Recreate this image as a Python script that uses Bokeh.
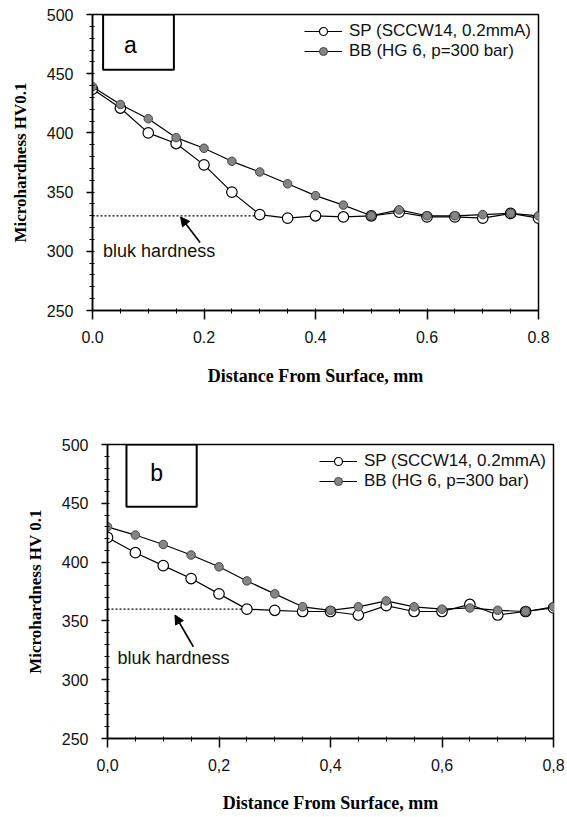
import numpy as np
from bokeh.plotting import figure
from bokeh.layouts import column
from bokeh.models import (Range1d, FixedTicker, Legend, LegendItem, Label,
                          BoxAnnotation, Arrow, NormalHead)
from bokeh.embed import file_html
from bokeh.resources import INLINE
from bokeh.core.properties import value

# ---------------- data ----------------
depth_mm = [0.0, 0.05, 0.10, 0.15, 0.20, 0.25, 0.30, 0.35, 0.40,
            0.45, 0.50, 0.55, 0.60, 0.65, 0.70, 0.75, 0.80]

sp_a = [437, 421, 400, 391, 373, 350, 331, 328, 330, 329, 330, 333, 329, 329, 328, 332, 328]
bb_a = [439, 424, 412, 396, 387, 376, 367, 357, 347, 339, 330, 335, 330, 330, 331, 332, 330]

sp_b = [421, 408, 397, 386, 373, 360, 359, 358, 358, 355, 363, 358, 358, 364, 355, 358, 361]
bb_b = [430, 423, 415, 406, 396, 384, 373, 362, 359, 362, 367, 362, 360, 361, 359, 358, 362]

bulk_a = 330
bulk_b = 360
bulk_start = 0.0
bulk_end_a = 0.30
bulk_end_b = 0.25

series_labels = ["SP (SCCW14, 0.2mmA)", "BB (HG 6, p=300 bar)"]
x_ticks = [0.0, 0.2, 0.4, 0.6, 0.8]
x_tick_labels_a = ["0.0", "0.2", "0.4", "0.6", "0.8"]
x_tick_labels_b = ["0,0", "0,2", "0,4", "0,6", "0,8"]
y_ticks = [250, 300, 350, 400, 450, 500]
panel_tags = ["a", "b"]
y_titles = ["Microhardness HV0.1", "Microhardness HV 0.1"]
x_title = "Distance From Surface, mm"
note_text = "bluk hardness"

SANS = "Liberation Sans"
SERIF = "Liberation Serif"


def make_panel(sp, bb, bulk, bulk_end, tag, tag_box, tag_xy, ytitle, xlabels,
               note_xy, arrow_pts, size, borders, xlabel_standoff, ylabel_standoff):
    ml, mt, mr, mb = borders
    p = figure(width=size[0], height=size[1],
               x_range=Range1d(0, 0.8), y_range=Range1d(250, 500),
               output_backend="svg", toolbar_location=None,
               min_border_left=ml, min_border_top=mt,
               min_border_right=mr, min_border_bottom=mb,
               frame_align=False)
    p.xgrid.visible = False
    p.ygrid.visible = False
    p.outline_line_color = "black"
    p.outline_line_width = 1.5
    p.outline_line_alpha = 1.0
    p.background_fill_color = "white"
    p.border_fill_color = "white"

    # x axis
    xa = p.xaxis[0]
    xa.ticker = FixedTicker(ticks=x_ticks,
                            minor_ticks=list(np.round(np.arange(0, 0.8001, 0.05), 2)))
    xa.major_label_overrides = dict(zip(x_ticks, xlabels))
    xa.axis_label = x_title
    xa.axis_label_text_font = SERIF
    xa.axis_label_text_font_style = "bold"
    xa.axis_label_text_font_size = "18px"
    xa.axis_label_text_color = "black"
    xa.axis_label_standoff = xlabel_standoff
    xa.major_label_text_font = SANS
    xa.major_label_text_font_size = "16px"
    xa.major_label_text_color = "#111111"
    xa.major_label_standoff = 11
    xa.major_tick_out = 9
    xa.major_tick_in = 0
    xa.minor_tick_out = 3
    xa.minor_tick_in = 2
    xa.axis_line_width = 1.5
    xa.major_tick_line_width = 1.5
    xa.axis_line_color = "black"

    # y axis
    ya = p.yaxis[0]
    ya.ticker = FixedTicker(ticks=y_ticks, minor_ticks=list(range(250, 501, 10)))
    ya.axis_label = ytitle
    ya.axis_label_text_font = SERIF
    ya.axis_label_text_font_style = "bold"
    ya.axis_label_text_font_size = "17px"
    ya.axis_label_text_color = "black"
    ya.axis_label_standoff = ylabel_standoff
    ya.major_label_text_font = SANS
    ya.major_label_text_font_size = "16px"
    ya.major_label_text_color = "#111111"
    ya.major_label_standoff = 13
    ya.major_tick_out = 6
    ya.major_tick_in = 0
    ya.minor_tick_out = 3
    ya.minor_tick_in = 2
    ya.axis_line_width = 1.5
    ya.major_tick_line_width = 1.5
    ya.axis_line_color = "black"

    # bulk hardness dotted line
    p.segment(x0=[bulk_start], y0=[bulk], x1=[bulk_end], y1=[bulk],
              line_color="black", line_width=1.3, line_dash="2 2")

    # series
    sp_line = p.line(depth_mm, sp, line_color="black", line_width=1.2)
    sp_pts = p.scatter(depth_mm, sp, marker="circle", size=10.5,
                       fill_color="white", line_color="black", line_width=1.2)
    bb_line = p.line(depth_mm, bb, line_color="black", line_width=1.2)
    bb_pts = p.scatter(depth_mm, bb, marker="circle", size=8.5,
                       fill_color="#858585", line_color="#444444", line_width=1.0)

    legend = Legend(items=[
        LegendItem(label=value(series_labels[0]), renderers=[sp_line, sp_pts]),
        LegendItem(label=value(series_labels[1]), renderers=[bb_line, bb_pts]),
    ], location="top_right")
    legend.label_text_font = SANS
    legend.label_text_font_size = "17px"
    legend.label_text_color = "#111111"
    legend.glyph_width = 38
    legend.glyph_height = 20
    legend.label_height = 20
    legend.label_standoff = 7
    legend.spacing = 0
    legend.padding = 5
    legend.margin = 2
    legend.border_line_alpha = 0
    legend.background_fill_alpha = 0
    p.add_layout(legend)

    # panel tag box
    l, r, b, t = tag_box
    p.add_layout(BoxAnnotation(left=l, right=r, bottom=b, top=t,
                               fill_alpha=0, line_color="black",
                               line_alpha=1.0, line_width=2))
    p.add_layout(Label(x=tag_xy[0], y=tag_xy[1], text=tag,
                       text_font=SANS, text_font_size="23px",
                       text_align="center", text_baseline="middle",
                       text_color="black"))

    # annotation
    p.add_layout(Label(x=note_xy[0], y=note_xy[1], text=note_text,
                       text_font=SANS, text_font_size="18px",
                       text_align="left", text_baseline="middle",
                       text_color="#111111"))
    (xs, ys), (xe, ye) = arrow_pts
    p.add_layout(Arrow(end=NormalHead(size=9, fill_color="black", line_color="black"),
                       x_start=xs, y_start=ys, x_end=xe, y_end=ye,
                       line_color="black", line_width=1.6))
    return p


p1 = make_panel(sp_a, bb_a, bulk_a, bulk_end_a, panel_tags[0],
                (0.019, 0.146, 453.3, 500), (0.068, 474),
                y_titles[0], x_tick_labels_a,
                (0.019, 300.5), ((0.193, 307.5), (0.158, 329)),
                (567, 404), (92, 14, 29, 94), 20, 14)

p2 = make_panel(sp_b, bb_b, bulk_b, bulk_end_b, panel_tags[1],
                (0.034, 0.160, 447, 500), (0.088, 476),
                y_titles[1], x_tick_labels_b,
                (0.018, 318.5), ((0.154, 328), (0.121, 355)),
                (567, 411), (107, 40, 14, 75), 19, 14)

layout = column(p1, p2, spacing=0)

with open("out.html", "w") as f:
    f.write(file_html(layout, INLINE))
